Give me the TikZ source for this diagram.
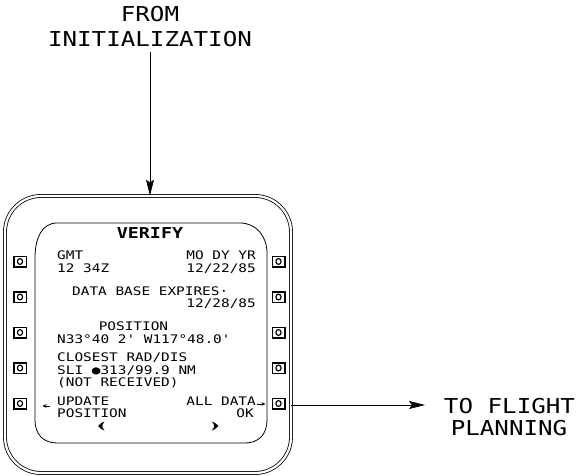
\documentclass[tikz,border=0pt]{standalone}
\usepackage{fontspec}
\setmainfont{DejaVu Sans Mono}
\newfontfamily\cadbig[FakeStretch=1.18]{DejaVu Sans Mono}
\newfontfamily\cadsmall[FakeStretch=1.22]{DejaVu Sans Mono}
\usetikzlibrary{arrows.meta}
\begin{document}
\begin{tikzpicture}[x=1pt,y=-1pt,
  bigtxt/.style={inner sep=0pt, font=\cadbig\fontsize{20.5}{24}\selectfont},
  scrtxt/.style={inner sep=0pt, font=\cadsmall\fontsize{11.8}{14}\selectfont},
  titletxt/.style={inner sep=0pt, font=\cadsmall\bfseries\fontsize{15}{18}\selectfont},
  keybtn/.style={draw, line width=1.5pt, minimum width=12.5pt, minimum height=10.5pt, inner sep=0pt,
    path picture={\draw[line width=1.2pt] (path picture bounding box.center) ellipse [x radius=2.6pt, y radius=2.9pt];}},
  flowarrow/.style={line width=0.8pt, -{Stealth[length=16pt,width=8pt,inset=3pt]}},
  tinyarrow/.style={line width=0.6pt, -{Stealth[length=4pt,width=3.5pt]}},
  ]
\useasboundingbox (0,0) rectangle (578,476);

% bezel
\node[draw, double, double distance=2.2pt, line width=0.8pt, rounded corners=36pt,
      minimum width=286pt, minimum height=277pt, inner sep=0pt] (bezel) at (148,334.5) {};

% screen
\draw[line width=0.8pt] (35,258) .. controls (35,238) and (42,223) .. (57,223) -- (240,223)
  .. controls (256,223) and (267,236) .. (267,253) -- (267,420)
  .. controls (267,434) and (259,443) .. (245,443) -- (57,443)
  .. controls (43,443) and (35,434) .. (35,420) -- cycle;

% line select keys
\foreach \i in {1,...,5} {
  \node[keybtn] (btnL\i) at (20, {226+35.5*\i}) {};
  \node[keybtn] (btnR\i) at (278.5, {226+35.5*\i}) {};
}

% top text
\node[bigtxt, anchor=base] (from) at (150,21.5) {FROM};
\node[bigtxt, anchor=base] (init) at (150,46.5) {INITIALIZATION};
\node[bigtxt, anchor=base] (toflight) at (509.5,413) {TO FLIGHT};
\node[bigtxt, anchor=base] (planning) at (509,435) {PLANNING};

% screen text
\node[titletxt, anchor=base] (verify) at (150,238) {VERIFY};
\node[scrtxt, anchor=base west] (gmt) at (57,259) {GMT};
\node[scrtxt, anchor=base west] (gmtval) at (57,272) {12 34Z};
\node[scrtxt, anchor=base east] (mody) at (256,259) {MO DY YR};
\node[scrtxt, anchor=base east] (modyval) at (256,272) {12/22/85};
\node[scrtxt, anchor=base west] (dbexp) at (72,295) {DATA BASE EXPIRES·};
\node[scrtxt, anchor=base east] (dbval) at (256,307) {12/28/85};
\node[scrtxt, anchor=base] (pos) at (133.5,330) {POSITION};
\node[scrtxt, anchor=base west] (posval) at (57,343) {N33°40 2' W117°48.0'};
\node[scrtxt, anchor=base west] (closest) at (57,361) {CLOSEST RAD/DIS};
\node[scrtxt, anchor=base west] (slival) at (57,374) {SLI ●313/99.9 NM};
\node[scrtxt, anchor=base west] (notrec) at (57,386.5) {(NOT RECEIVED)};
\node[scrtxt, anchor=base west] (upd1) at (57,405) {UPDATE};
\node[scrtxt, anchor=base west] (upd2) at (57,417) {POSITION};
\node[scrtxt, anchor=base east] (alldata) at (256,405) {ALL DATA};
\node[scrtxt, anchor=base east] (ok) at (254,417) {OK};

% page chevrons
\fill (104.5,421.5) .. controls (101,423) and (98.5,425) .. (98,426)
  .. controls (98.5,427) and (101,429) .. (104.5,430.5)
  .. controls (103,428.5) and (102.3,427) .. (102.3,426)
  .. controls (102.3,425) and (103,423.5) .. (104.5,421.5) -- cycle;
\fill (212,421.5) .. controls (215.5,423) and (218,425) .. (218.5,426)
  .. controls (218,427) and (215.5,429) .. (212,430.5)
  .. controls (213.5,428.5) and (214.2,427) .. (214.2,426)
  .. controls (214.2,425) and (213.5,423.5) .. (212,421.5) -- cycle;

% small arrows
\coordinate (updtail) at (50,406);
\coordinate (updhead) at (42.5,406);
\draw[tinyarrow] (updtail) -- (updhead);
\coordinate (oktail) at (256.5,404);
\coordinate (okhead) at (265.5,404);
\draw[tinyarrow] (oktail) -- (okhead);

% connectors
\coordinate (initfoot) at ([yshift=-5.5pt]init.south);
\draw[flowarrow] (initfoot) -- (initfoot |- bezel.north);
\coordinate (fltip) at (425,405);
\draw[flowarrow] (bezel.east |- fltip) -- (fltip);
\end{tikzpicture}
\end{document}
